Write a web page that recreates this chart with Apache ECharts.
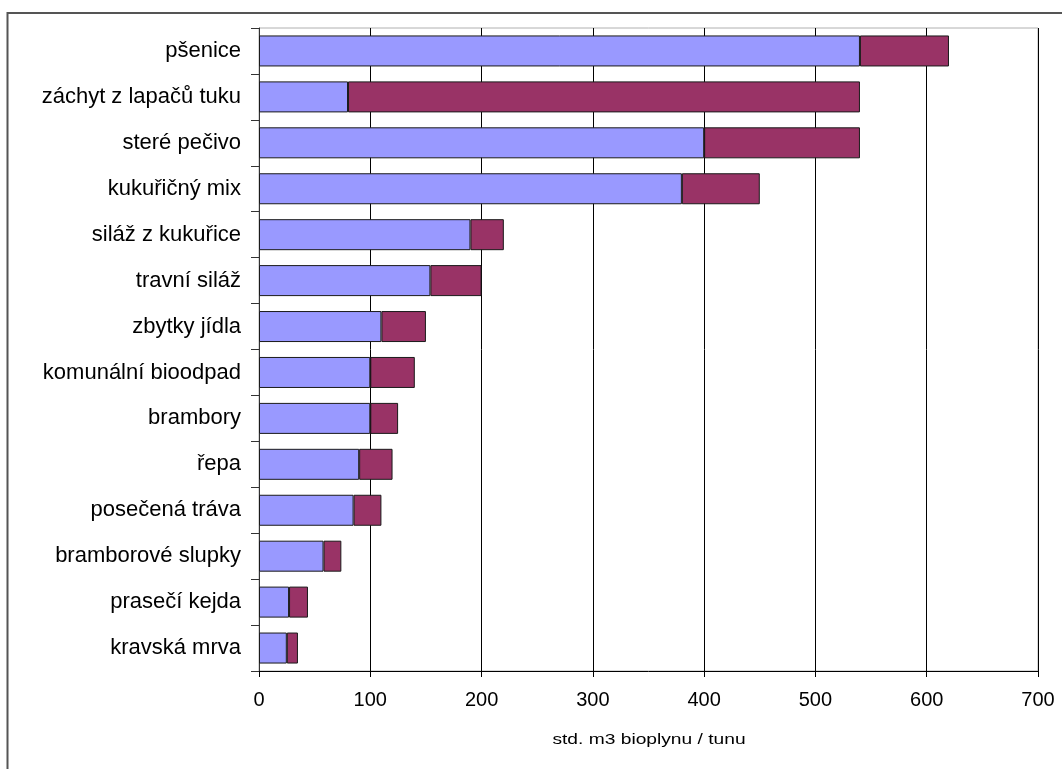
<!DOCTYPE html>
<html>
<head>
<meta charset="utf-8">
<script src="https://cdn.jsdelivr.net/npm/echarts@6/dist/echarts.min.js"></script>
<style>
  html, body { margin: 0; padding: 0; background: #fff; }
  #chart { width: 1062px; height: 769px; }
</style>
</head>
<body>
<div id="chart"></div>
<script>
// Substrates, top to bottom
const categories = [
  'pšenice', 'záchyt z lapačů tuku', 'steré pečivo', 'kukuřičný mix',
  'siláž z kukuřice', 'travní siláž', 'zbytky jídla', 'komunální bioodpad',
  'brambory', 'řepa', 'posečená tráva', 'bramborové slupky',
  'prasečí kejda', 'kravská mrva'
];
// Lower (blue) part of each bar
const lowerValues = [540, 80, 400, 380, 190, 154, 110, 100, 100, 90, 85, 58, 27, 25];
// Upper (maroon) part stacked on top
const upperValues = [80, 460, 140, 70, 30, 46, 40, 40, 25, 30, 25, 16, 17, 10];
const xTicks = { min: 0, max: 700, interval: 100 };
const xAxisName = 'std. m3 bioplynu / tunu';

const FONT = '"Liberation Sans", Arial, sans-serif';
const chart = echarts.init(document.getElementById('chart'), null, { renderer: 'canvas' });

const barStyle = (color) => ({
  color: color,
  borderColor: '#1a1a1a',
  borderWidth: 1
});

chart.setOption({
  animation: false,
  backgroundColor: '#fff',
  graphic: [
    {
      // chart frame
      type: 'rect',
      shape: { x: 7.5, y: 13, width: 1100, height: 800 },
      style: { fill: 'none', stroke: '#555', lineWidth: 2 },
      silent: true,
      z: 0
    },
    {
      // x axis line runs a little past the value axis origin
      type: 'line',
      shape: { x1: 251, y1: 671.5, x2: 259, y2: 671.5 },
      style: { stroke: '#000', lineWidth: 1 },
      silent: true
    },
    {
      // axis title, drawn slightly widened
      type: 'text',
      x: 649, y: 740,
      scaleX: 1.28,
      style: {
        text: xAxisName,
        font: '15px ' + FONT,
        fill: '#000',
        align: 'center',
        verticalAlign: 'middle'
      },
      silent: true
    }
  ],
  grid: {
    left: 259, top: 28, right: 24, bottom: 98,
    show: true, borderColor: '#b0b0b0', borderWidth: 1, backgroundColor: 'transparent'
  },
  xAxis: {
    type: 'value',
    min: xTicks.min, max: xTicks.max, interval: xTicks.interval,
    axisLine: { show: true, lineStyle: { color: '#000', width: 1 } },
    axisTick: { show: true, length: 6, lineStyle: { color: '#000' } },
    axisLabel: { fontFamily: FONT, fontSize: 20, color: '#000', margin: 19 },
    splitLine: { show: true, lineStyle: { color: '#000', width: 1 } }
  },
  yAxis: {
    type: 'category',
    data: categories,
    inverse: true,
    axisLine: { show: true, lineStyle: { color: '#333', width: 1 } },
    axisTick: { show: true, length: 8, alignWithLabel: false, lineStyle: { color: '#333' } },
    axisLabel: { fontFamily: FONT, fontSize: 22, color: '#000', margin: 18 },
    splitLine: { show: false }
  },
  series: [
    {
      name: 'lower', type: 'bar', stack: 'total',
      data: lowerValues, barWidth: 31,
      itemStyle: barStyle('#9999FF')
    },
    {
      name: 'upper', type: 'bar', stack: 'total',
      data: upperValues, barWidth: 31,
      itemStyle: barStyle('#993366')
    }
  ]
});
</script>
</body>
</html>
